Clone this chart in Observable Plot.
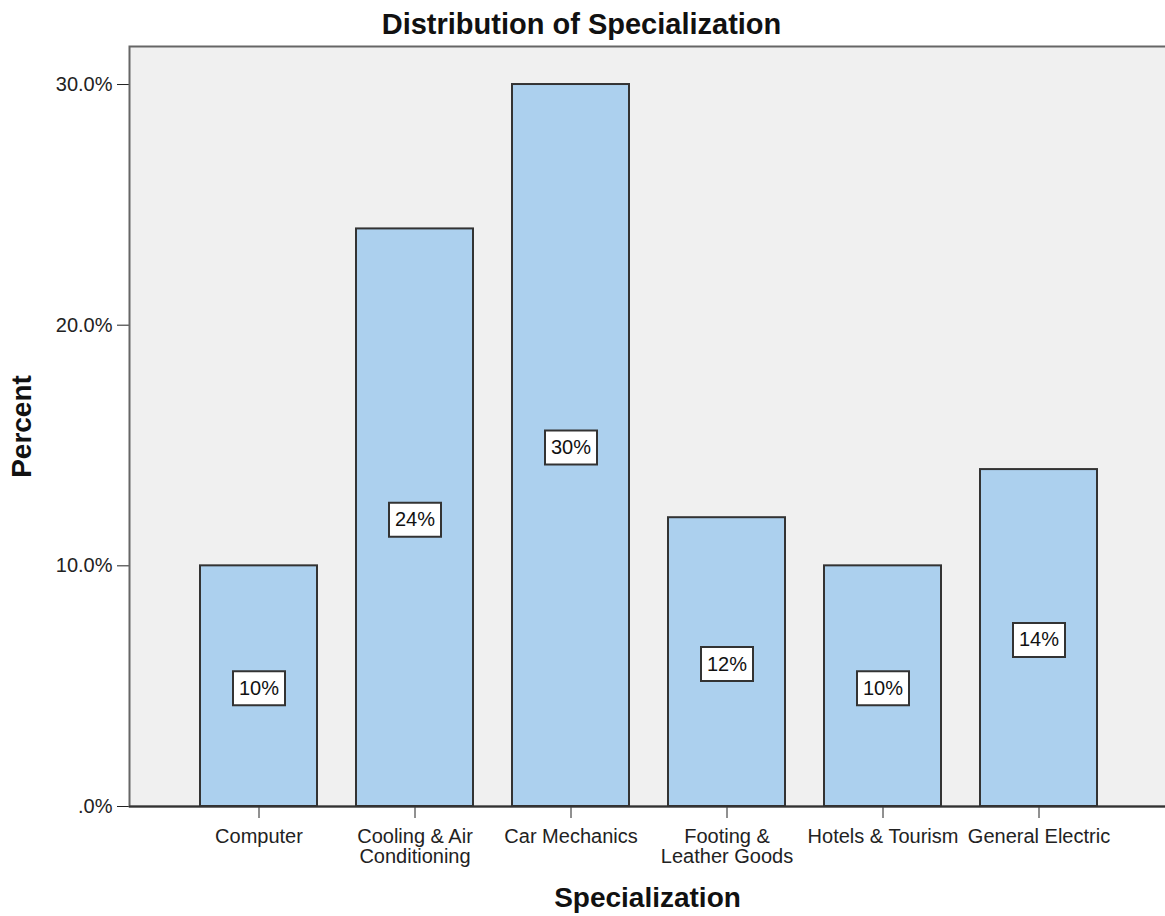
<!DOCTYPE html>
<html>
<head>
<meta charset="utf-8">
<script src="https://cdn.jsdelivr.net/npm/d3@7"></script>
<script src="https://cdn.jsdelivr.net/npm/@observablehq/plot@0.6"></script>
<style>
  html, body { margin: 0; padding: 0; background: white; }
</style>
</head>
<body>
<div id="chart"></div>
<script>
const categories = ["Computer", "Cooling & Air Conditioning", "Car Mechanics", "Footing & Leather Goods", "Hotels & Tourism", "General Electric"];
const tickLabels = ["Computer", "Cooling & Air\nConditioning", "Car Mechanics", "Footing &\nLeather Goods", "Hotels & Tourism", "General Electric"];
const percents = [10, 24, 30, 12, 10, 14];
const yTicks = [0, 10, 20, 30];
const title = "Distribution of Specialization";
const xTitle = "Specialization";
const yTitle = "Percent";

const data = categories.map((c, i) => ({category: c, label: tickLabels[i], value: percents[i]}));

const boxSymbol = {
  draw(context) {
    context.moveTo(-26, -17);
    context.lineTo(26, -17);
    context.lineTo(26, 17);
    context.lineTo(-26, 17);
    context.closePath();
  }
};

const font = "'Liberation Sans', Arial, sans-serif";

const chart = Plot.plot({
  width: 1165,
  height: 916,
  marginLeft: 129,
  marginRight: 0,
  marginTop: 46,
  marginBottom: 110,
  style: {fontFamily: font, fontSize: "20px", color: "#222", background: "white"},
  x: {
    domain: categories,
    range: [200, 1097],
    paddingInner: 0.25,
    paddingOuter: 0,
    tickSize: 12,
    tickFormat: () => "",
    label: null
  },
  y: {
    domain: [0, 31.58],
    ticks: yTicks,
    tickSize: 12,
    tickPadding: 5,
    tickFormat: d => d === 0 ? ".0%" : d.toFixed(1) + "%",
    label: null
  },
  marks: [
    Plot.frame({fill: "#f0f0f0", stroke: "#666", strokeWidth: 2, insetRight: -6}),
    Plot.barY(data, {x: "category", y: "value", fill: "#acd0ee", stroke: "#333", strokeWidth: 2}),
    Plot.ruleY([0], {stroke: "#333", strokeWidth: 2}),
    Plot.dot(data, {x: "category", y: d => d.value / 2, symbol: boxSymbol, fill: "white", stroke: "#333", strokeWidth: 2, dy: 2}),
    Plot.text(data, {x: "category", y: d => d.value / 2, text: d => d.value + "%", fontSize: 20, fill: "#111", dy: 2}),
    Plot.text(data, {x: "category", text: "label", frameAnchor: "bottom", lineAnchor: "top", textAnchor: "middle", dy: 22, lineHeight: 1.0, fontSize: 20, fill: "#222"}),
    Plot.text([xTitle], {text: d => d, frameAnchor: "bottom", lineAnchor: "middle", textAnchor: "middle", dy: 92, fontSize: 28, fontWeight: "bold", fill: "#111"}),
    Plot.text([yTitle], {text: d => d, frameAnchor: "left", lineAnchor: "middle", textAnchor: "middle", dx: -107, rotate: -90, fontSize: 28, fontWeight: "bold", fill: "#111"}),
    Plot.text([title], {text: d => d, frameAnchor: "top", lineAnchor: "middle", textAnchor: "middle", dx: -66, dy: -22, fontSize: 29, fontWeight: "bold", fill: "#111"})
  ]
});

document.getElementById("chart").appendChild(chart);
</script>
</body>
</html>
